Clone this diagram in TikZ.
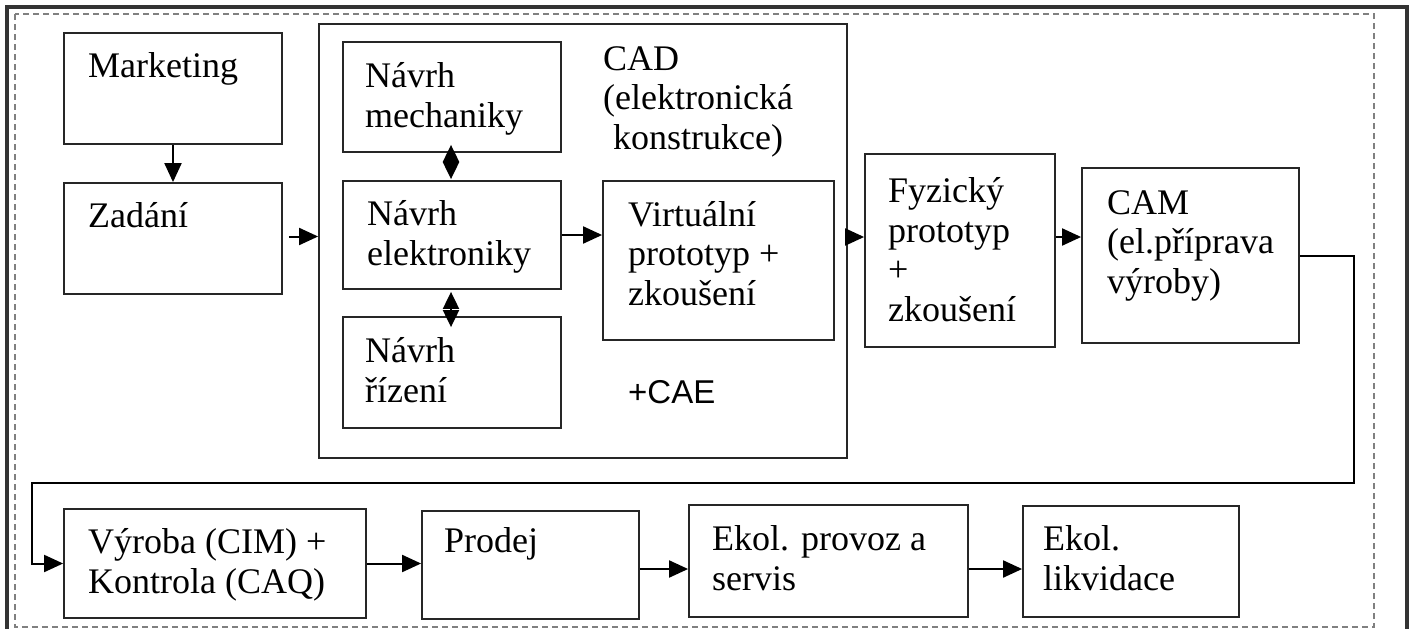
\documentclass[tikz,border=0pt]{standalone}
\usepackage{fontspec}
\setmainfont{Liberation Serif}
\newfontfamily\sansf{Liberation Sans}
\usetikzlibrary{arrows.meta,fit,calc}
\begin{document}
\begin{tikzpicture}[x=1pt,y=-1pt,
  box/.style={draw=black!85, line width=1.8pt, inner sep=0pt},
  txt/.style={inner sep=0pt, anchor=base west, align=left, font=\fontsize{36}{39.5}\selectfont},
  arr/.style={line width=2pt, -{Triangle[length=19pt,width=17pt]}},
  darr/.style={line width=2pt, {Triangle[length=17pt,width=16pt]}-{Triangle[length=17pt,width=16pt]}}]
\useasboundingbox[fill=white] (0,0) rectangle (1411,629);
% frames
\draw[line width=4pt, black!80] (7,660) -- (7,7) -- (1407,7) -- (1407,660);
\draw[black!50, line width=1.2pt, dash pattern=on 6pt off 4pt] (15,14) rectangle (1374,627);
% boxes
\node[box, fit={(64,33) (282,144)}] (mkt) {};
\node[box, fit={(64,183) (282,294)}] (zad) {};
\node[box, fit={(319,24) (847,458)}] (cad) {};
\node[box, fit={(343,42) (561,152)}] (mech) {};
\node[box, fit={(343,181) (561,289)}] (elek) {};
\node[box, fit={(343,317) (561,428)}] (riz) {};
\node[box, fit={(603,181) (834,340)}] (virt) {};
\node[box, fit={(865,154) (1055,347)}] (fyz) {};
\node[box, fit={(1082,168) (1299,343)}] (cam) {};
\node[box, fit={(64,509) (366,618)}] (vyr) {};
\node[box, fit={(422,511) (639,619)}] (pro) {};
\node[box, fit={(689,505) (968,617)}] (eko) {};
\node[box, fit={(1023,506) (1239,617)}] (lik) {};
% texts (anchor = baseline of the last line)
\node[txt] (mkt-t) at (88,77) {Marketing};
\node[txt] (zad-t) at (88,227) {Zadání};
\node[txt] (mech-t) at (365,127) {Návrh\\mechaniky};
\node[txt] (cad-t) at (603,149) {CAD\\(elektronická\\\hspace*{10pt}konstrukce)};
\node[txt] (elek-t) at (367,265) {Návrh\\elektroniky};
\node[txt] (virt-t) at (628,305) {Virtuální\\prototyp +\\zkoušení};
\node[txt] (riz-t) at (365,402) {Návrh\\řízení};
\node[inner sep=0pt, anchor=base west, font=\sansf\fontsize{33}{38}\selectfont] (cae-t) at (628,403) {+CAE};
\node[txt] (fyz-t) at (888,321) {Fyzický\\prototyp\\+\\zkoušení};
\node[txt] (cam-t) at (1107,293) {CAM\\(el.příprava\\výroby)};
\node[txt] (vyr-t) at (88,593) {Výroba (CIM) +\\Kontrola (CAQ)};
\node[txt] (pro-t) at (444,552) {Prodej};
\node[txt] (eko-t) at (712,590) {Ekol. provoz a\\servis};
\node[txt] (lik-t) at (1043,590) {Ekol.\\likvidace};
% helper coordinates
\coordinate (ze) at ($(zad.east)+(6,-2)$);
\coordinate (ce) at ($(elek.east -| cad.east)+(0,2)$);
\coordinate (fe) at ($(elek.east -| fyz.east)+(0,2)$);
\coordinate (pe) at ($(pro.east)+(0,4)$);
\coordinate (ee) at ($(eko.east)+(0,8)$);
% connectors
\draw[arr] (mkt.south) -- (zad.north);
\draw[arr] (ze) -- (ze -| cad.west);
\draw[darr] ($(mech.south)+(-1,-8)$) -- ($(elek.north)+(-1,-1)$);
\draw[darr] ($(elek.south)+(-1,2)$) -- ($(riz.north)+(-1,11)$);
\draw[arr] (elek.east) -- (elek.east -| virt.west);
\draw[arr] (ce) -- (ce -| fyz.west);
\draw[arr] (fe) -- (fe -| cam.west);
\draw[arr] (cam.east) -| (1354,483) -- (32,483) |- (vyr.west);
\draw[arr] (vyr.east) -- (vyr.east -| pro.west);
\draw[arr] (pe) -- (pe -| eko.west);
\draw[arr] (ee) -- (ee -| lik.west);
\end{tikzpicture}
\end{document}
